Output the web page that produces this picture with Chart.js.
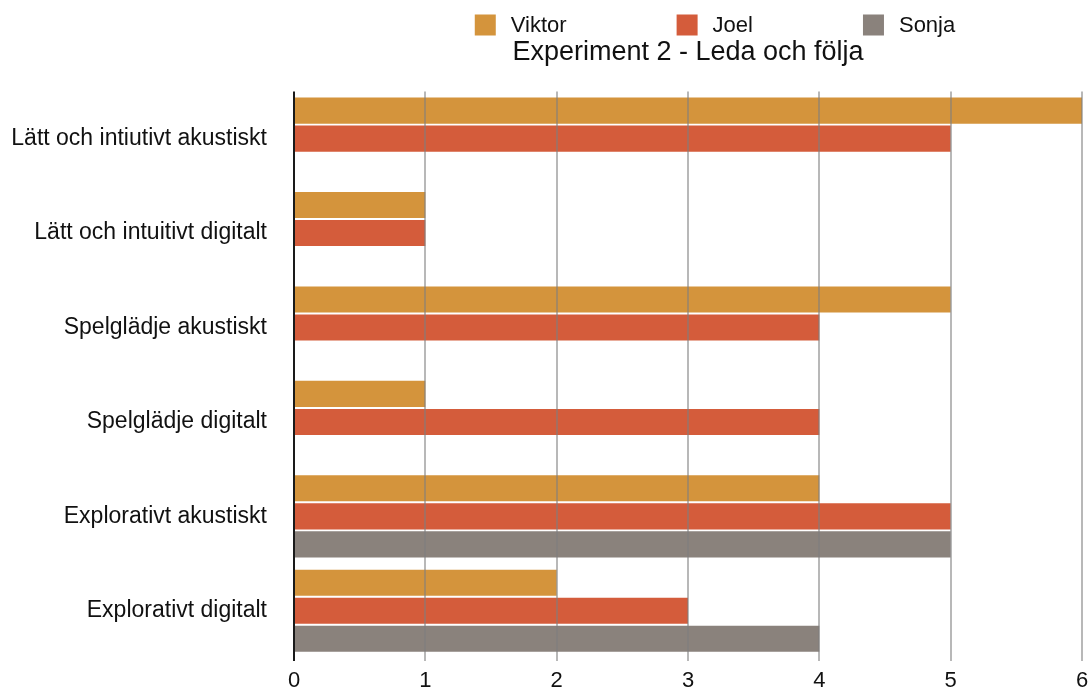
<!DOCTYPE html>
<html>
<head>
<meta charset="utf-8">
<script src="https://cdn.jsdelivr.net/npm/chart.js@4/dist/chart.umd.min.js"></script>
<style>
	html, body { margin: 0; padding: 0; background: #fff; }
	#wrap { width: 1091px; height: 690px; }
</style>
</head>
<body>
<div id="wrap"><canvas id="bars"></canvas></div>
<script>
// categories and scores
const categories = [
	"Lätt och intiutivt akustiskt",
	"Lätt och intuitivt digitalt",
	"Spelglädje akustiskt",
	"Spelglädje digitalt",
	"Explorativt akustiskt",
	"Explorativt digitalt",
]
const viktor = [6, 1, 5, 1, 4, 2]
const joel = [5, 1, 4, 4, 5, 3]
const sonja = [null, null, null, null, 5, 4]
const xTicks = [0, 1, 2, 3, 4, 5, 6]

const colors = {
	viktor: "#d4943c",
	joel: "#d45c3b",
	sonja: "#8a827c",
}

Chart.defaults.font.family = "'Liberation Sans', Arial, Helvetica, sans-serif"
Chart.defaults.color = "#111"

// legend row drawn above the title, wide spacing between items
const legendRow = {
	id: "legendRow",
	afterDraw(chart) {
		const ctx = chart.ctx
		const box = 21
		const gap = 15
		const spacing = 110
		ctx.save()
		ctx.font = "22px 'Liberation Sans', Arial, sans-serif"
		ctx.textBaseline = "middle"
		ctx.textAlign = "left"
		const items = chart.data.datasets.map(ds => ({
			text: ds.label,
			color: ds.backgroundColor,
			w: box + gap + ctx.measureText(ds.label).width,
		}))
		const total = items.reduce((s, it) => s + it.w, 0) + spacing * (items.length - 1)
		const center = (chart.chartArea.left + chart.chartArea.right) / 2 + 27
		let x = center - total / 2
		const y = 25
		items.forEach(it => {
			ctx.fillStyle = it.color
			ctx.fillRect(x, y - box / 2, box, box)
			ctx.fillStyle = "#111"
			ctx.fillText(it.text, x + box + gap, y + 1)
			x += it.w + spacing
		})
		ctx.restore()
	},
}

const data = {
	labels: categories,
	datasets: [
		{ label: "Viktor", data: viktor, backgroundColor: colors.viktor },
		{ label: "Joel", data: joel, backgroundColor: colors.joel },
		{ label: "Sonja", data: sonja, backgroundColor: colors.sonja },
	],
}

new Chart(document.querySelector("#bars"), {
	type: "bar",
	data: data,
	plugins: [legendRow],
	options: {
		indexAxis: "y",
		responsive: true,
		maintainAspectRatio: false,
		animation: false,
		categoryPercentage: 0.89,
		barPercentage: 0.93,
		layout: {
			padding: { left: 0, right: 9, top: 0, bottom: 0 },
		},
		plugins: {
			legend: { display: false },
			tooltip: { enabled: false },
			title: {
				display: true,
				fullSize: false,
				text: "Experiment 2 - Leda och följa",
				color: "#111",
				font: { size: 27, weight: "normal" },
				padding: { top: 36, bottom: 23 },
			},
		},
		scales: {
			x: {
				min: 0,
				max: 6,
				afterBuildTicks: scale => {
					scale.ticks = xTicks.map(v => ({ value: v }))
				},
				afterFit: scale => {
					scale.height = 32
					scale.paddingLeft = 0
					scale.paddingRight = 0
				},
				border: { display: false },
				grid: {
					z: 1,
					color: c => (c.index === 0 ? "#1a1a1a" : "rgba(125,125,125,0.55)"),
					lineWidth: 2,
					tickLength: 3,
				},
				ticks: {
					color: "#111",
					font: { size: 22 },
					padding: 7,
				},
			},
			y: {
				afterFit: scale => {
					scale.width = 294
					scale.paddingTop = 0
					scale.paddingBottom = 0
				},
				border: { display: false },
				grid: { display: false, drawTicks: false },
				ticks: {
					color: "#111",
					font: { size: 23 },
					padding: 27,
				},
			},
		},
	},
})
</script>
</body>
</html>
